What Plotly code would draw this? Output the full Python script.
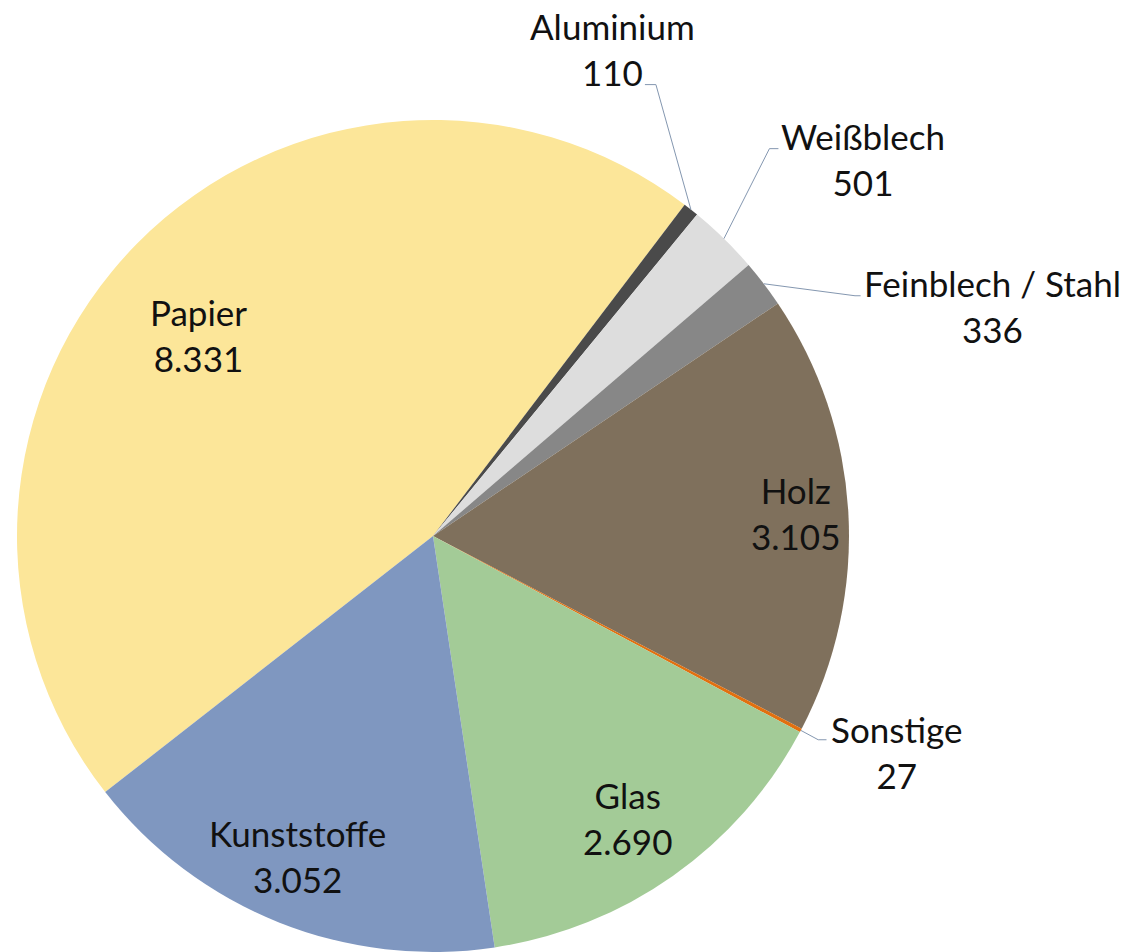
import math
import plotly.graph_objects as go

# ---- data ----
labels = ["Papier", "Aluminium", "Weißblech", "Feinblech / Stahl",
          "Holz", "Sonstige", "Glas", "Kunststoffe"]
values = [8331, 110, 501, 336, 3105, 27, 2690, 3052]
value_text = ["8.331", "110", "501", "336", "3.105", "27", "2.690", "3.052"]

# ---- style ----
colors = ["#FCE699", "#4A4A4A", "#DDDDDD", "#878787",
          "#7F705C", "#E2700F", "#A3CB97", "#7F97C0"]
FONT = "Lato"
FSIZE = 35
TXT = "#111111"
LEADER = "#8497B0"

# label placement style: inside -> (radial fraction, angle delta deg)
inside_style = {"Papier": (0.744, -4.0), "Holz": (0.873, -0.5),
                "Glas": (0.824, 0.7), "Kunststoffe": (0.835, 1.2)}
# outside -> text offset, elbow offset, line-end offset (px from slice edge point)
outside_style = {
    "Aluminium": ((-78, -161), (-35, -125), (-46, -125)),
    "Weißblech": ((139.5, -79.4), (45.5, -90), (54.5, -90)),
    "Feinblech / Stahl": ((228.5, 22.3), (91.2, 12), (96.8, 12)),
    "Sonstige": ((95.4, 21.7), (17.4, 9.4), (25.7, 9.4)),
}

W, H = 1130, 952
M_T, M_B, M_L, M_R = 120, 0, 0, 0
PW, PH = W - M_L - M_R, H - M_T - M_B
R = PH / 2.0
CX = 433.0
CY = M_T + R
START = 232.0  # bearing (clockwise from 12 o'clock) where first slice starts


def to_paper(px, py):
    return (px - M_L) / PW, 1 - (py - M_T) / PH


def polar(bearing_deg, r):
    a = math.radians(bearing_deg)
    return CX + r * math.sin(a), CY - r * math.cos(a)


total = float(sum(values))
mids = []
acc = 0.0
for v in values:
    mids.append(START + (acc + v / 2.0) / total * 360.0)
    acc += v

fig = go.Figure(go.Pie(
    labels=labels, values=values, sort=False, direction="clockwise",
    rotation=START - 360 if START > 180 else START,
    marker=dict(colors=colors, line=dict(width=0)),
    textinfo="none", hoverinfo="label+value", showlegend=False,
    domain=dict(x=[(CX - R - M_L) / PW, (CX + R - M_L) / PW], y=[0, 1]),
))

annotations = []
shapes = []
for lab, vt, mid in zip(labels, value_text, mids):
    text = f"{lab}<br>{vt}"
    if lab in inside_style:
        f, d = inside_style[lab]
        px, py = polar(mid + d, f * R)
    else:
        (tdx, tdy), (edx, edy), (ldx, ldy) = outside_style[lab]
        ax_, ay_ = polar(mid, R)
        px, py = ax_ + tdx, ay_ + tdy
        p0 = to_paper(ax_, ay_)
        p1 = to_paper(ax_ + edx, ay_ + edy)
        p2 = to_paper(ax_ + ldx, ay_ + ldy)
        shapes.append(dict(type="path", xref="paper", yref="paper",
                           path=f"M {p0[0]},{p0[1]} L {p1[0]},{p1[1]} L {p2[0]},{p2[1]}",
                           line=dict(color=LEADER, width=1)))
    xp, yp = to_paper(px, py)
    annotations.append(dict(x=xp, y=yp, xref="paper", yref="paper", text=text,
                            showarrow=False, xanchor="center", yanchor="middle",
                            align="center",
                            font=dict(family=FONT, size=FSIZE, color=TXT)))

fig.update_layout(
    width=W, height=H,
    margin=dict(l=M_L, r=M_R, t=M_T, b=M_B),
    paper_bgcolor="white", plot_bgcolor="white",
    annotations=annotations, shapes=shapes,
    font=dict(family=FONT, size=FSIZE, color=TXT),
)

fig.write_html("out.html", config={"displayModeBar": False},
               post_script="document.body.style.margin='0';document.body.style.overflow='hidden';")
